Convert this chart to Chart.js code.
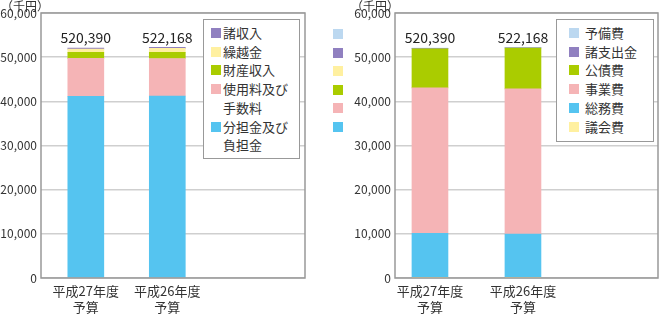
<!DOCTYPE html>
<html>
<head>
<meta charset="utf-8">
<script src="https://cdn.jsdelivr.net/npm/chart.js@4.4.1/dist/chart.umd.min.js"></script>
<style>
  body { margin: 0; width: 660px; height: 315px; position: relative; background: #fff; overflow: hidden;
         font-family: "Noto Sans CJK JP", sans-serif; color: #333; }
  canvas { position: absolute; top: 0; }
  .unit { position: absolute; top: 0; font-size: 12px; line-height: 12px; z-index: 2; }
  .legend { position: absolute; border: 1px solid #999; background: #fff; font-size: 13px; line-height: 18.7px;
            box-sizing: border-box; padding-top: 4px; }
  .legend div { position: relative; white-space: nowrap; }
  .legend i { position: absolute; width: 10px; height: 10px; top: 4px; }
  .sw { position: absolute; width: 10px; height: 10px; left: 333px; }
</style>
</head>
<body>
<canvas id="incomeChart" width="330" height="315" style="left:0"></canvas>
<canvas id="expenseChart" width="320" height="315" style="left:340px"></canvas>
<div class="unit" style="left:1px">（千円）</div>
<div class="unit" style="left:351px">（千円）</div>
<div id="incomeLegend" class="legend" style="left:203px;top:19px;width:97px;height:140px"></div>
<div id="expenseLegend" class="legend" style="left:556px;top:19px;width:98px;height:123px"></div>
<div id="strayBoxes"></div>
<script>
// categories (two lines each)
const categories = [['平成27年度', '予算'], ['平成26年度', '予算']];
const totalLabels = ['520,390', '522,168'];

// income side (bottom -> top)
const incomeNames = ['分担金及び負担金', '使用料及び手数料', '財産収入', '繰越金', '諸収入'];
const incomeLegendText = ['分担金及び<br>負担金', '使用料及び<br>手数料', '財産収入', '繰越金', '諸収入'];
const futanKin = [41150, 41200];
const shiyoRyo = [8580, 8500];
const zaisanShunyu = [1350, 1400];
const kurikoshiKin = [750, 900];
const shoShunyu = [209, 217];

// expense side (bottom -> top)
const expenseNames = ['議会費', '総務費', '事業費', '公債費', '諸支出金', '予備費'];
const gikaiHi = [100, 100];
const somuHi = [10000, 9830];
const jigyoHi = [32950, 32890];
const kosaiHi = [8850, 9250];
const shoShishutsu = [39, 47];
const yobiHi = [100, 100];

const yTicks = [0, 10000, 20000, 30000, 40000, 50000, 60000];

const C = {
  blue: '#55C4F0', pink: '#F5B4B6', green: '#AACC00',
  yellow: '#FFF0A0', purple: '#9080C0', lightBlue: '#BCD8F0'
};

// draw the grey frame round the plot area
const framePlugin = {
  id: 'frame',
  afterDatasetsDraw(chart) {
    const a = chart.chartArea, ctx = chart.ctx;
    ctx.save();
    ctx.strokeStyle = '#999';
    ctx.lineWidth = 1.5;
    ctx.strokeRect(a.left, a.top, a.right - a.left, a.bottom - a.top);
    ctx.restore();
  }
};

// total above each stacked bar
const totalPlugin = {
  id: 'totals',
  afterDatasetsDraw(chart) {
    const ctx = chart.ctx;
    const last = chart.getDatasetMeta(chart.data.datasets.length - 1);
    ctx.save();
    ctx.font = '14px "Noto Sans CJK JP", sans-serif';
    ctx.fillStyle = '#222';
    ctx.textAlign = 'center';
    ctx.textBaseline = 'bottom';
    last.data.forEach((bar, i) => {
      ctx.fillText(totalLabels[i], bar.x, bar.y - 3);
    });
    ctx.restore();
  }
};

function toPoints(arr) {
  return arr.map((v, i) => ({ x: i, y: v }));
}

function makeChart(id, series, names, colors, xMin, xMax, yWidth, padRight) {
  const datasets = series.map((s, k) => ({
    label: names[k],
    data: toPoints(s),
    backgroundColor: colors[k],
    borderWidth: 0,
    barThickness: 36
  }));
  return new Chart(document.getElementById(id).getContext('2d'), {
    type: 'bar',
    data: { datasets: datasets },
    options: {
      responsive: false,
      animation: false,
      devicePixelRatio: 1,
      layout: { padding: { top: 13, right: padRight, left: 0, bottom: 0 } },
      plugins: { legend: { display: false }, tooltip: { enabled: false } },
      scales: {
        x: {
          type: 'linear',
          stacked: true,
          offset: false,
          min: xMin,
          max: xMax,
          afterBuildTicks: s => { s.ticks = categories.map((c, i) => ({ value: i })); },
          afterFit: s => { s.height = 37; },
          grid: { display: false, drawTicks: false },
          border: { display: false },
          ticks: {
            callback: v => categories[v],
            font: { size: 13, family: '"Noto Sans CJK JP", sans-serif', lineHeight: 1.25 },
            color: '#333',
            padding: 5,
            maxRotation: 0
          }
        },
        y: {
          stacked: true,
          min: 0,
          max: 60000,
          afterBuildTicks: s => { s.ticks = yTicks.map(v => ({ value: v })); },
          afterFit: s => { s.width = yWidth; },
          grid: { color: '#cfcfcf', lineWidth: 1.5, drawTicks: false },
          border: { display: false },
          ticks: {
            callback: v => v.toLocaleString('en-US'),
            font: { size: 12, family: '"Noto Sans CJK JP", sans-serif' },
            color: '#333',
            padding: 4
          }
        }
      }
    },
    plugins: [framePlugin, totalPlugin]
  });
}

makeChart('incomeChart',
  [futanKin, shiyoRyo, zaisanShunyu, kurikoshiKin, shoShunyu],
  incomeNames,
  [C.blue, C.pink, C.green, C.yellow, C.purple],
  -0.55, 2.69, 41, 25);

makeChart('expenseChart',
  [gikaiHi, somuHi, jigyoHi, kosaiHi, shoShishutsu, yobiHi],
  expenseNames,
  [C.yellow, C.blue, C.pink, C.green, C.purple, C.lightBlue],
  -0.376, 2.452, 55, 2);

// HTML legends, top item first
function buildLegend(id, texts, colors, swLeft, textLeft) {
  const box = document.getElementById(id);
  for (let k = texts.length - 1; k >= 0; k--) {
    const d = document.createElement('div');
    d.style.paddingLeft = textLeft + 'px';
    d.innerHTML = '<i style="left:' + swLeft + 'px;background:' + colors[k] + '"></i>' + texts[k];
    box.appendChild(d);
  }
}
buildLegend('incomeLegend', incomeLegendText, [C.blue, C.pink, C.green, C.yellow, C.purple], 7, 19);
buildLegend('expenseLegend', expenseNames, [C.yellow, C.blue, C.pink, C.green, C.purple, C.lightBlue], 12, 28);

// loose colour swatches between the two charts
const strayColors = [C.lightBlue, C.purple, C.yellow, C.green, C.pink, C.blue];
const strayTops = [29, 48, 66, 85, 103, 122];
const stray = document.getElementById('strayBoxes');
strayColors.forEach((c, i) => {
  const s = document.createElement('div');
  s.className = 'sw';
  s.style.top = strayTops[i] + 'px';
  s.style.background = c;
  stray.appendChild(s);
});
</script>
</body>
</html>
